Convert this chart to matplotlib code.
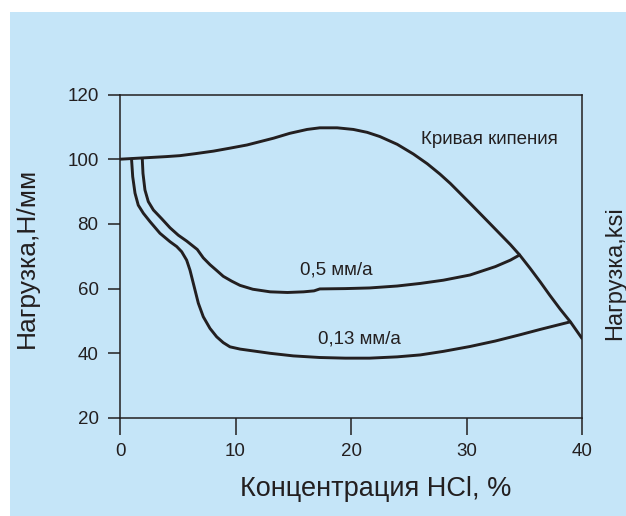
import matplotlib
matplotlib.use("Agg")
import matplotlib.pyplot as plt
from matplotlib.patches import Rectangle

plt.rcParams['font.family'] = ['Liberation Sans', 'DejaVu Sans']

# Boiling curve (Кривая кипения)
boil_x = [0, 1.0, 2.5, 4.0, 5.2, 6.5, 8.1, 9.5, 11.0, 13.3, 14.7, 16.2, 17.3,
          18.8, 20.2, 21.4, 22.5, 24.0, 25.4, 26.6, 27.7, 28.6, 30.3, 32.0,
          33.8, 34.6, 35.5, 36.4, 37.2, 38.1, 39.0, 40.0]
boil_y = [100, 100.2, 100.5, 100.8, 101.1, 101.7, 102.5, 103.4, 104.4, 106.5, 108.0, 109.2, 109.7,
          109.7, 109.2, 108.3, 107.0, 104.6, 101.6, 98.6, 95.4, 92.5, 86.4, 80.2,
          73.6, 70.4, 66.3, 62.0, 58.0, 53.7, 49.7, 44.6]

# Corrosion rate 0,5 mm/a
c05_x = [1.93, 1.99, 2.16, 2.45, 2.89, 3.61, 4.33, 5.05, 5.77, 6.69, 7.21, 7.79,
         8.37, 8.94, 9.67, 10.39, 11.5, 13.0, 14.5, 15.9, 16.8, 17.3, 19.5,
         21.6, 24.0, 26.0, 28.0, 30.3, 32.5, 33.8, 34.6]
c05_y = [100, 95.6, 90.5, 86.9, 84.3, 81.6, 78.8, 76.5, 74.7, 72.1, 69.5, 67.4,
         65.6, 63.8, 62.3, 61.0, 59.8, 59.0, 58.8, 59.0, 59.3, 59.9, 60.0,
         60.2, 60.8, 61.6, 62.6, 64.2, 66.8, 68.8, 70.4]

# Corrosion rate 0,13 mm/a
c013_x = [1.0, 1.1, 1.3, 1.58, 2.02, 2.6, 3.46, 4.33, 4.91, 5.34, 5.77, 6.06,
          6.35, 6.78, 7.21, 7.79, 8.37, 8.94, 9.52, 10.4, 13.0, 15.0, 17.3,
          19.5, 21.6, 24.0, 26.0, 28.0, 30.3, 32.5, 34.6, 36.4, 38.96]
c013_y = [100, 94.6, 89.5, 85.8, 83.3, 80.7, 77.1, 74.5, 73.0, 71.4, 68.8, 65.7,
          61.6, 55.5, 51.3, 47.7, 45.1, 43.3, 42.0, 41.3, 40.0, 39.2, 38.7,
          38.5, 38.5, 38.9, 39.5, 40.6, 42.1, 43.8, 45.7, 47.4, 49.7]

x_ticks = [0, 10, 20, 30, 40]
y_ticks = [20, 40, 60, 80, 100, 120]

bg = '#c5e5f8'
ink = '#231f20'

fig = plt.figure(figsize=(6.26, 5.16), dpi=100)
fig.patches.append(Rectangle((9.6 / 626, 0), 1 - 9.6 / 626, 1 - 12 / 516,
                             transform=fig.transFigure, facecolor=bg,
                             edgecolor='none', zorder=-10))

ax = fig.add_axes([120 / 626, 1 - 418 / 516, 462 / 626, 323.5 / 516])
ax.set_facecolor('none')
ax.set_zorder(2)

for xs, ys in [(boil_x, boil_y), (c05_x, c05_y), (c013_x, c013_y)]:
    ax.plot(xs, ys, color=ink, lw=2.1, solid_joinstyle='round', solid_capstyle='round')

ax.set_xlim(0, 40)
ax.set_ylim(20, 120)
ax.set_xticks(x_ticks)
ax.set_yticks(y_ticks)
ax.tick_params(axis='y', direction='out', length=8.4, width=1.1, pad=7,
               labelsize=13.5, colors=ink)
ax.tick_params(axis='x', direction='out', length=12.2, width=1.1, pad=6,
               labelsize=13.5, colors=ink)
for s in ax.spines.values():
    s.set_linewidth(1.1)
    s.set_color(ink)

ax.text(31.95, 106.2, 'Кривая кипения', fontsize=13.5, color=ink, ha='center', va='center')
ax.text(18.74, 65.7, '0,5 мм/а', fontsize=13.5, color=ink, ha='center', va='center')
ax.text(20.75, 44.3, '0,13 мм/а', fontsize=13.5, color=ink, ha='center', va='center')

fig.text(27 / 626, 1 - 257.5 / 516, 'Нагрузка,Н/мм', rotation=90, fontsize=19,
         color=ink, ha='center', va='center')
fig.text(604 / 626, 1 - 273 / 516, 'Нагрузка,ksi', rotation=90, fontsize=17,
         color=ink, ha='left', va='center')
fig.text(376 / 626, 20 / 516, 'Концентрация HCl, %', fontsize=19.5,
         color=ink, ha='center', va='baseline')

fig.savefig('out.png', dpi=100, facecolor='white')
